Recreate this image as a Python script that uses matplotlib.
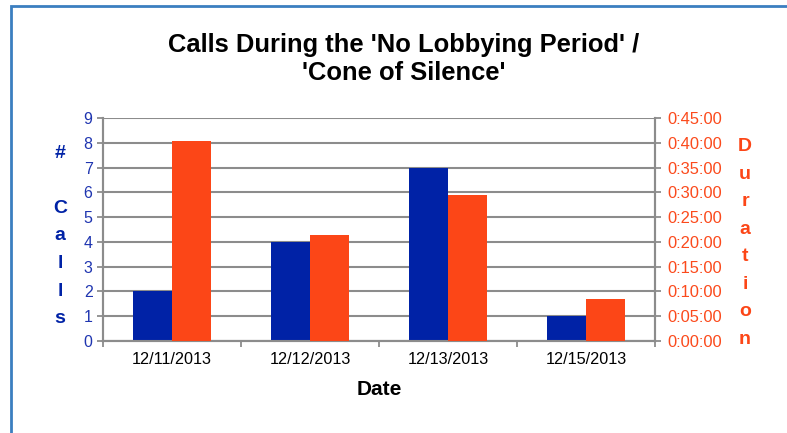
import matplotlib
matplotlib.use("Agg")
import matplotlib.pyplot as plt
import numpy as np
from matplotlib.patches import Rectangle
from matplotlib.ticker import FuncFormatter, MultipleLocator

dates = ["12/11/2013", "12/12/2013", "12/13/2013", "12/15/2013"]
calls = [2, 4, 7, 1]
durations = ["0:40:24", "0:21:18", "0:29:27", "0:08:30"]

def to_minutes(s):
    h, m, sec = (int(p) for p in s.split(":"))
    return h * 60 + m + sec / 60.0

dur_min = [to_minutes(d) for d in durations]

BLUE = "#0022a6"
ORANGE = "#fc4617"
TICK_BLUE = "#1f35b0"
TICK_ORANGE = "#fb4a1c"
GRID = "#8c8c8c"

plt.rcParams['font.family'] = ['Liberation Sans', 'DejaVu Sans']

fig = plt.figure(figsize=(7.87, 4.33), dpi=100)
W, H = 787, 433
ax = fig.add_axes([103 / W, 1 - 341 / H, (655 - 103) / W, (341 - 118) / H])
ax2 = ax.twinx()

x = np.arange(len(dates))
bw = 0.283
ax.bar(x - bw / 2, calls, width=bw, color=BLUE, zorder=3)
ax2.bar(x + bw / 2, dur_min, width=bw, color=ORANGE, zorder=3)

ax.set_xlim(-0.5, len(dates) - 0.5)
ax.set_ylim(0, 9)
ax2.set_ylim(0, 45)
ax.yaxis.set_major_locator(MultipleLocator(1))
ax2.yaxis.set_major_locator(MultipleLocator(5))
ax2.yaxis.set_major_formatter(FuncFormatter(lambda v, p: "0:%02d:00" % int(round(v))))

ax.set_axisbelow(True)
ax.grid(axis='y', color=GRID, linewidth=1.5, zorder=0)

# x ticks: labels at centers, marks at boundaries
ax.set_xticks(x)
ax.set_xticklabels(dates, fontsize=11.7)
ax.set_xticks(np.arange(-0.5, len(dates) + 0.5, 1), minor=True)
ax.tick_params(axis='x', which='major', length=0, pad=8)
ax.tick_params(axis='x', which='minor', length=4, color=GRID, width=1.3)

ax.tick_params(axis='y', colors=TICK_BLUE, labelsize=11.5, length=4, width=1.3)
ax.tick_params(axis='y', color=GRID)
ax2.tick_params(axis='y', colors=TICK_ORANGE, labelsize=11.9, length=4, width=1.3, pad=5)
ax2.tick_params(axis='y', color=GRID)

for a in (ax, ax2):
    a.spines['top'].set_visible(False)
    for s in ('left', 'right', 'bottom'):
        a.spines[s].set_color(GRID)
        a.spines[s].set_linewidth(1.5)

ax.set_xlabel("Date", fontsize=15, fontweight='bold', labelpad=9)

# stacked vertical axis titles
fig.text(60 / W, 1 - 236 / H, "#\n\nC\na\nl\nl\ns", color=BLUE, fontsize=14,
         fontweight='bold', ha='center', va='center', linespacing=1.81, multialignment='center')
fig.text(745 / W, 1 - 243 / H, "D\nu\nr\na\nt\ni\no\nn", color=ORANGE, fontsize=14,
         fontweight='bold', ha='center', va='center', linespacing=1.81, multialignment='center')

fig.text(404 / W, 1 - 59 / H, "Calls During the 'No Lobbying Period' /\n'Cone of Silence'",
         fontsize=18.4, fontweight='bold', ha='center', va='center', linespacing=1.22)

# outer chart frame
fig.patches.append(Rectangle((11 / W, -0.1), 1.2, 1 - 6 / H + 0.1, transform=fig.transFigure,
                             fill=False, edgecolor="#3b7fc0", linewidth=2))

fig.savefig("out.png", dpi=100)
